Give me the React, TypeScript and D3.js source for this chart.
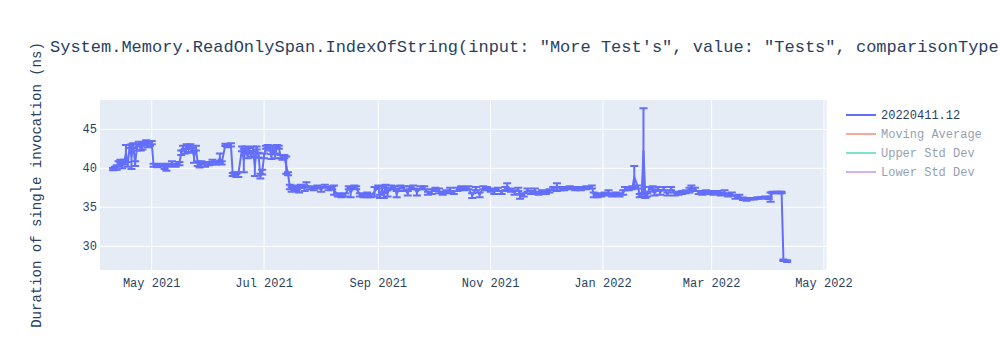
import React from "react";
import * as d3 from "d3";

const titleText =
  'System.Memory.ReadOnlySpan.IndexOfString(input: "More Test\'s", value: "Tests", comparisonType';
const yAxisTitle = "Duration of single invocation (ns)";
const yTicks = [30, 35, 40, 45];
const legendNames = ["20220411.12", "Moving Average", "Upper Std Dev", "Lower Std Dev"];
const legendColors = ["#636efa", "#EF553B", "#00cc96", "#ab63fa"];
const legendVisible = [true, false, false, false];

const dates = [
  "2021-04-10","2021-04-11","2021-04-12","2021-04-13","2021-04-14","2021-04-15","2021-04-16","2021-04-17","2021-04-18","2021-04-19",
  "2021-04-20","2021-04-21","2021-04-22","2021-04-23","2021-04-24","2021-04-25","2021-04-26","2021-04-27","2021-04-28","2021-04-29",
  "2021-04-30","2021-05-01","2021-05-02","2021-05-04","2021-05-06","2021-05-08","2021-05-09","2021-05-10","2021-05-12","2021-05-14",
  "2021-05-16","2021-05-17","2021-05-18","2021-05-19","2021-05-20","2021-05-21","2021-05-22","2021-05-23","2021-05-24","2021-05-25",
  "2021-05-26","2021-05-27","2021-05-28","2021-05-30","2021-06-01","2021-06-03","2021-06-05","2021-06-07","2021-06-08","2021-06-10",
  "2021-06-11","2021-06-13","2021-06-14","2021-06-15","2021-06-16","2021-06-17","2021-06-19","2021-06-20","2021-06-21","2021-06-22",
  "2021-06-23","2021-06-24","2021-06-25","2021-06-26","2021-06-27","2021-06-28","2021-06-29","2021-06-30","2021-07-01","2021-07-02",
  "2021-07-03","2021-07-04","2021-07-05","2021-07-06","2021-07-07","2021-07-08","2021-07-09","2021-07-10","2021-07-11","2021-07-12",
  "2021-07-13","2021-07-14","2021-07-15","2021-07-16","2021-07-17","2021-07-18","2021-07-19","2021-07-20","2021-07-21","2021-07-23",
  "2021-07-24","2021-07-26","2021-07-28","2021-07-30","2021-08-01","2021-08-03","2021-08-05","2021-08-07","2021-08-08","2021-08-10",
  "2021-08-12","2021-08-14","2021-08-16","2021-08-17","2021-08-19","2021-08-20","2021-08-22","2021-08-24","2021-08-26","2021-08-28",
  "2021-08-30","2021-09-01","2021-09-02","2021-09-03","2021-09-04","2021-09-05","2021-09-06","2021-09-08","2021-09-10","2021-09-11",
  "2021-09-13","2021-09-15","2021-09-17","2021-09-18","2021-09-20","2021-09-22","2021-09-24","2021-09-26","2021-09-28","2021-09-30",
  "2021-10-02","2021-10-04","2021-10-06","2021-10-08","2021-10-10","2021-10-12","2021-10-14","2021-10-16","2021-10-18","2021-10-20",
  "2021-10-22","2021-10-24","2021-10-26","2021-10-28","2021-10-30","2021-11-01","2021-11-03","2021-11-05","2021-11-07","2021-11-09",
  "2021-11-10","2021-11-12","2021-11-14","2021-11-16","2021-11-17","2021-11-19","2021-11-21","2021-11-23","2021-11-25","2021-11-27",
  "2021-11-29","2021-12-01","2021-12-03","2021-12-05","2021-12-07","2021-12-09","2021-12-11","2021-12-14","2021-12-17","2021-12-20",
  "2021-12-23","2021-12-26","2021-12-27","2021-12-29","2021-12-31","2022-01-02","2022-01-04","2022-01-06","2022-01-08","2022-01-10",
  "2022-01-12","2022-01-13","2022-01-15","2022-01-17","2022-01-18","2022-01-20","2022-01-21","2022-01-22","2022-01-23","2022-01-24",
  "2022-01-25","2022-01-26","2022-01-28","2022-01-29","2022-01-31","2022-02-01","2022-02-03","2022-02-05","2022-02-07","2022-02-09",
  "2022-02-11","2022-02-13","2022-02-15","2022-02-17","2022-02-18","2022-02-20","2022-02-22","2022-02-24","2022-02-26","2022-02-28",
  "2022-03-02","2022-03-04","2022-03-06","2022-03-08","2022-03-10","2022-03-12","2022-03-14","2022-03-16","2022-03-18","2022-03-20",
  "2022-03-22","2022-03-24","2022-03-26","2022-03-28","2022-03-30","2022-04-01","2022-04-02","2022-04-03","2022-04-05","2022-04-07",
  "2022-04-08","2022-04-09","2022-04-11",
];

const means = [
  39.9,40.0,40.1,40.6,40.9,40.3,40.8,41.9,40.5,42.8,
  41.5,42.9,40.6,42.7,43.1,42.6,42.8,43.2,43.4,43.0,
  43.2,43.3,40.4,40.3,40.4,40.2,40.0,40.4,40.6,40.4,
  40.6,42.0,42.6,42.2,42.8,42.5,42.9,42.3,41.5,42.6,
  40.6,40.4,40.7,40.5,40.6,40.8,40.7,41.3,40.7,43.0,
  42.9,43.0,39.2,39.3,39.1,39.2,42.5,41.0,42.6,41.6,
  42.4,41.7,42.5,40.2,42.6,41.7,39.0,39.5,41.6,42.7,
  42.8,42.6,41.5,42.7,41.6,42.8,42.7,41.5,41.4,41.5,
  40.4,39.3,37.6,37.3,37.5,37.4,37.6,37.2,37.7,37.4,
  37.9,37.5,37.4,37.6,37.3,37.7,37.4,37.5,37.2,36.6,
  36.5,36.6,37.5,36.9,37.6,37.5,36.6,36.5,36.6,36.5,
  37.0,37.6,36.4,37.3,36.5,37.7,36.8,37.6,37.5,36.7,
  37.6,37.4,36.8,37.5,37.6,36.9,37.5,37.5,36.8,37.0,
  37.3,37.1,36.8,37.0,37.2,36.9,37.3,37.5,37.4,37.5,
  36.5,37.4,36.6,37.5,37.4,37.2,37.0,37.3,36.9,37.4,
  37.6,37.2,36.9,37.3,36.4,36.6,37.2,36.9,37.1,36.8,
  37.0,36.9,37.1,37.4,37.6,37.4,37.4,37.5,37.4,37.4,
  37.5,37.6,36.6,36.5,36.6,36.7,36.9,36.6,36.7,36.6,
  36.9,37.4,37.4,37.5,38.9,37.6,36.5,36.6,42.2,36.5,
  36.6,37.3,37.5,36.8,37.4,36.9,37.4,36.7,37.4,36.7,
  36.8,36.9,37.0,37.2,37.5,37.3,36.9,36.8,37.0,36.9,
  36.8,36.9,36.7,36.9,36.6,36.7,36.3,36.4,36.1,36.0,
  36.1,36.1,36.2,36.2,36.3,36.2,36.3,36.9,36.9,36.9,
  36.9,28.2,28.1,
];

const errors = [
  0.15,0.2,0.3,0.3,0.2,0.3,0.3,1.1,0.3,0.2,
  1.6,0.3,0.3,0.4,0.3,0.3,0.4,0.2,0.2,0.3,
  0.3,0.2,0.2,0.15,0.2,0.3,0.3,0.2,0.3,0.2,
  0.2,0.3,0.3,0.3,0.3,0.4,0.2,0.3,0.8,0.3,
  0.3,0.3,0.2,0.3,0.2,0.3,0.2,0.6,0.2,0.15,
  0.2,0.2,0.2,0.2,0.2,0.3,0.3,1.5,0.2,0.3,
  0.2,0.2,0.3,1.2,0.2,0.3,0.3,0.3,0.3,0.2,
  0.2,0.3,0.3,0.2,0.3,0.2,0.2,0.2,0.3,0.2,
  1.1,0.2,0.3,0.3,0.2,0.3,0.2,0.3,0.2,0.3,
  0.3,0.2,0.2,0.2,0.3,0.2,0.2,0.2,0.6,0.2,
  0.2,0.2,0.2,0.6,0.2,0.2,0.2,0.2,0.3,0.2,
  0.6,0.2,0.2,0.4,0.3,0.2,0.4,0.2,0.2,0.4,
  0.2,0.3,0.3,0.2,0.2,0.4,0.2,0.2,0.2,0.3,
  0.2,0.3,0.2,0.2,0.3,0.2,0.2,0.2,0.2,0.2,
  0.3,0.2,0.3,0.2,0.2,0.2,0.3,0.2,0.2,0.2,
  0.5,0.2,0.3,0.2,0.3,0.2,0.2,0.2,0.3,0.2,
  0.2,0.2,0.2,0.2,0.5,0.2,0.2,0.2,0.2,0.2,
  0.2,0.2,0.3,0.2,0.2,0.2,0.3,0.2,0.2,0.2,
  0.3,0.2,0.2,0.2,1.4,0.2,0.2,0.2,5.5,0.3,
  0.2,0.3,0.2,0.3,0.2,0.3,0.2,0.2,0.2,0.2,
  0.2,0.2,0.2,0.3,0.3,0.2,0.2,0.2,0.2,0.2,
  0.2,0.2,0.2,0.3,0.2,0.2,0.2,0.2,0.15,0.15,
  0.1,0.1,0.1,0.1,0.1,0.15,0.6,0.1,0.1,0.1,
  0.1,0.1,0.1,
];

const xDomain = ["2021-04-02T22:00", "2022-05-02T09:00"];
const yDomain = [26.96, 48.76];

const FONT = '"Liberation Mono", "Courier New", monospace';
const TEXT = "#2a3f5f";

export default function App() {
  const W = 1000, H = 350;
  const L = 100, R = 826.5, T = 100, B = 270;
  const parse = d3.timeParse("%Y-%m-%d");
  const parseT = d3.timeParse("%Y-%m-%dT%H:%M");
  const x = d3.scaleTime().domain([parseT(xDomain[0])!, parseT(xDomain[1])!]).range([L, R]);
  const y = d3.scaleLinear().domain(yDomain).range([B, T]);
  const pts = dates.map((d, i) => ({ d: parse(d)!, v: means[i], e: errors[i] }));
  const line = d3.line<any>().x((p) => x(p.d)).y((p) => y(p.v));
  const xTicks = x.ticks(d3.timeMonth.every(2)!);
  const fmt = d3.timeFormat("%b %Y");
  const cap = 4;
  const blue = "#636efa";

  return (
    <svg width={W} height={H} style={{ position: "absolute", left: 0, top: 0, background: "#fff" }}>
      <defs>
        <clipPath id="plotclip">
          <rect x={L} y={T} width={R - L} height={B - T} />
        </clipPath>
      </defs>
      <rect x={L} y={T} width={R - L} height={B - T} fill="#E5ECF6" />
      {xTicks.map((t, i) => (
        <line key={"xg" + i} x1={x(t)} x2={x(t)} y1={T} y2={B} stroke="#fff" strokeWidth={1} />
      ))}
      {yTicks.map((t) => (
        <line key={"yg" + t} x1={L} x2={R} y1={y(t)} y2={y(t)} stroke="#fff" strokeWidth={1} />
      ))}
      <g clipPath="url(#plotclip)">
        {pts.map((p, i) => {
          const px = x(p.d);
          const y1 = y(p.v + p.e);
          const y2 = y(p.v - p.e);
          return (
            <g key={"eb" + i} stroke={blue} strokeWidth={2}>
              <line x1={px} x2={px} y1={y1} y2={y2} />
              <line x1={px - cap} x2={px + cap} y1={y1} y2={y1} />
              <line x1={px - cap} x2={px + cap} y1={y2} y2={y2} />
            </g>
          );
        })}
        <path d={line(pts) || ""} fill="none" stroke={blue} strokeWidth={2} strokeLinejoin="round" />
      </g>
      {xTicks.map((t, i) => (
        <text key={"xt" + i} x={x(t)} y={287} textAnchor="middle" fontFamily={FONT} fontSize={12} fill={TEXT}>
          {fmt(t)}
        </text>
      ))}
      {yTicks.map((t) => (
        <text key={"yt" + t} x={97} y={y(t) + 4} textAnchor="end" fontFamily={FONT} fontSize={12} fill={TEXT}>
          {t}
        </text>
      ))}
      <text x={50} y={52} fontFamily={FONT} fontSize={17} fill={TEXT}>
        {titleText}
      </text>
      <text
        transform={`translate(41,${(T + B) / 2}) rotate(-90)`}
        textAnchor="middle"
        fontFamily={FONT}
        fontSize={14}
        fill={TEXT}
      >
        {yAxisTitle}
      </text>
      {legendNames.map((n, i) => {
        const ly = 115 + i * 19;
        const op = legendVisible[i] ? 1 : 0.5;
        return (
          <g key={"lg" + i} opacity={op}>
            <line x1={846} x2={876} y1={ly} y2={ly} stroke={legendColors[i]} strokeWidth={2} />
            <text x={881} y={ly + 4} fontFamily={FONT} fontSize={12} fill={TEXT}>
              {n}
            </text>
          </g>
        );
      })}
    </svg>
  );
}
